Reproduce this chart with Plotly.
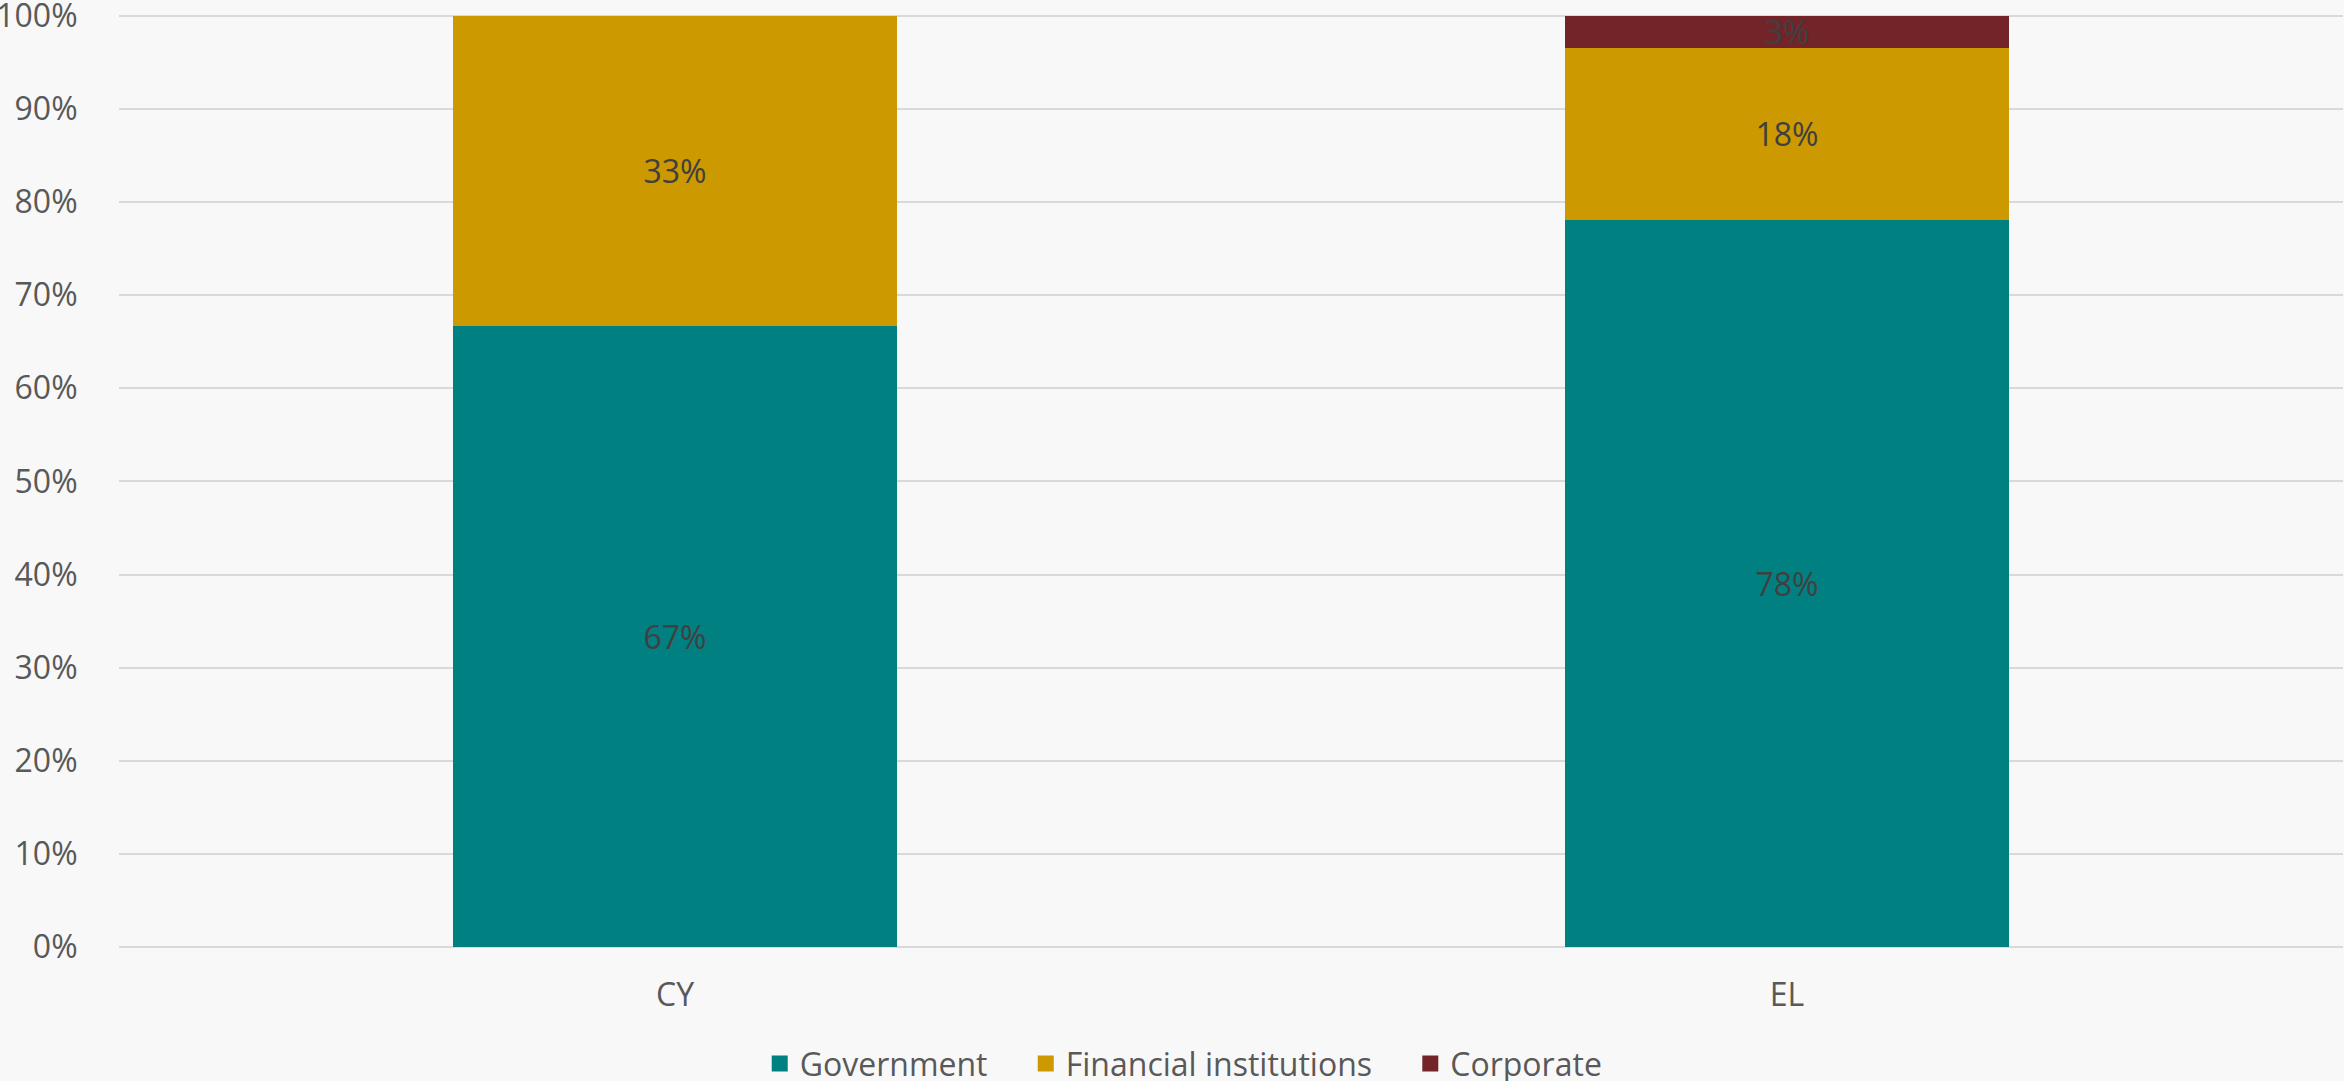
import plotly.graph_objects as go

# Share of exposures by sector, per country (percent)
countries = ["CY", "EL"]
government = [66.7, 78.1]
financial = [33.3, 18.45]
corporate = [0.0, 3.45]

series_names = ["Government", "Financial institutions", "Corporate"]
series_values = [government, financial, corporate]
series_colors = ["#008080", "#CC9900", "#722429"]

y_ticks = list(range(0, 101, 10))
y_tick_labels = [f"{t}%" for t in y_ticks]

FONT = "Open Sans"
BG = "#F8F8F8"
NBSP = "\u00a0"

fig = go.Figure()

for i, (name, vals, color) in enumerate(zip(series_names, series_values, series_colors)):
    labels = [f"{v:.0f}%" if v > 0 else "" for v in vals]
    fig.add_trace(go.Bar(
        x=countries,
        y=vals,
        name=name,
        marker=dict(color=color, line=dict(width=0)),
        text=labels,
        textposition="inside",
        insidetextanchor="middle",
        textangle=0,
        textfont=dict(family=FONT, size=32, color="#404040"),
        constraintext="none",
        cliponaxis=False,
        showlegend=False,
        hoverinfo="skip",
    ))
    # legend entry with a larger square swatch; padded names widen the item spacing
    pad = NBSP * 4 if i < len(series_names) - 1 else ""
    fig.add_trace(go.Scatter(
        x=[None], y=[None],
        mode="markers",
        name=name + pad,
        marker=dict(symbol="square", size=21, color=color),
        showlegend=True,
    ))

fig.update_layout(
    width=2344,
    height=1081,
    barmode="stack",
    bargap=0.6,
    paper_bgcolor=BG,
    plot_bgcolor=BG,
    margin=dict(l=119, r=1, t=13, b=134, autoexpand=False),
    font=dict(family=FONT, size=32, color="#595959"),
    legend=dict(
        orientation="h",
        xref="container",
        yref="container",
        x=0.505,
        xanchor="center",
        y=0.016,
        yanchor="middle",
        font=dict(family=FONT, size=32, color="#595959"),
        itemsizing="trace",
        bgcolor="rgba(0,0,0,0)",
        traceorder="normal",
    ),
    xaxis=dict(
        type="category",
        showgrid=False,
        showline=False,
        zeroline=False,
        ticks="outside",
        ticklen=20,
        tickcolor="rgba(0,0,0,0)",
        tickfont=dict(family=FONT, size=32, color="#595959"),
    ),
    yaxis=dict(
        range=[0, 100.3],
        tickvals=y_ticks,
        ticktext=y_tick_labels,
        ticklabeloverflow="allow",
        showgrid=True,
        gridcolor="#D9D9D9",
        gridwidth=2,
        zeroline=True,
        zerolinecolor="#D9D9D9",
        zerolinewidth=2,
        showline=False,
        ticks="outside",
        ticklen=34,
        tickcolor="rgba(0,0,0,0)",
        tickfont=dict(family=FONT, size=32, color="#595959"),
    ),
)

fig.write_html("out.html")
